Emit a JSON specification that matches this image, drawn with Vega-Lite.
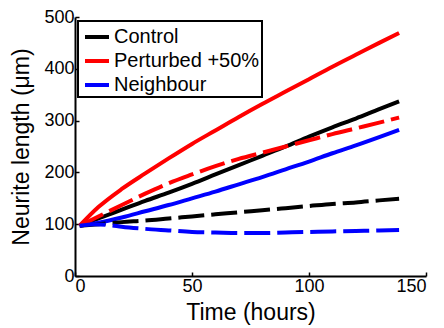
{
  "$schema": "https://vega.github.io/schema/vega-lite/v6.json",
  "width": 351,
  "height": 259,
  "autosize": {"type": "none"},
  "padding": {"left": 75, "top": 17, "right": 18, "bottom": 52},
  "background": "white",
  "config": {
    "font": "Liberation Sans",
    "view": {"stroke": null},
    "axis": {
      "grid": false,
      "domainColor": "black",
      "domainWidth": 2,
      "tickColor": "black",
      "tickWidth": 1.5,
      "tickSize": -4,
      "labelColor": "black",
      "labelFontSize": 18,
      "titleColor": "black",
      "titleFontSize": 23,
      "titleFontWeight": "normal"
    }
  },
  "data": {
    "values": [
      {"t": 2, "v": 97, "group": "Control", "kind": "solid"},
      {"t": 10, "v": 111, "group": "Control", "kind": "solid"},
      {"t": 20, "v": 128, "group": "Control", "kind": "solid"},
      {"t": 30, "v": 145, "group": "Control", "kind": "solid"},
      {"t": 40, "v": 161, "group": "Control", "kind": "solid"},
      {"t": 50, "v": 178, "group": "Control", "kind": "solid"},
      {"t": 60, "v": 196, "group": "Control", "kind": "solid"},
      {"t": 70, "v": 214, "group": "Control", "kind": "solid"},
      {"t": 80, "v": 232, "group": "Control", "kind": "solid"},
      {"t": 90, "v": 250, "group": "Control", "kind": "solid"},
      {"t": 100, "v": 269, "group": "Control", "kind": "solid"},
      {"t": 110, "v": 287, "group": "Control", "kind": "solid"},
      {"t": 120, "v": 304, "group": "Control", "kind": "solid"},
      {"t": 130, "v": 322, "group": "Control", "kind": "solid"},
      {"t": 138.5, "v": 337, "group": "Control", "kind": "solid"},

      {"t": 2, "v": 97, "group": "Perturbed +50%", "kind": "solid"},
      {"t": 10, "v": 133, "group": "Perturbed +50%", "kind": "solid"},
      {"t": 20, "v": 168, "group": "Perturbed +50%", "kind": "solid"},
      {"t": 30, "v": 198, "group": "Perturbed +50%", "kind": "solid"},
      {"t": 40, "v": 227, "group": "Perturbed +50%", "kind": "solid"},
      {"t": 50, "v": 255, "group": "Perturbed +50%", "kind": "solid"},
      {"t": 60, "v": 281, "group": "Perturbed +50%", "kind": "solid"},
      {"t": 70, "v": 307, "group": "Perturbed +50%", "kind": "solid"},
      {"t": 80, "v": 332, "group": "Perturbed +50%", "kind": "solid"},
      {"t": 90, "v": 356, "group": "Perturbed +50%", "kind": "solid"},
      {"t": 100, "v": 380, "group": "Perturbed +50%", "kind": "solid"},
      {"t": 110, "v": 404, "group": "Perturbed +50%", "kind": "solid"},
      {"t": 120, "v": 427, "group": "Perturbed +50%", "kind": "solid"},
      {"t": 130, "v": 450, "group": "Perturbed +50%", "kind": "solid"},
      {"t": 138.5, "v": 469, "group": "Perturbed +50%", "kind": "solid"},

      {"t": 2, "v": 97, "group": "Neighbour", "kind": "solid"},
      {"t": 10, "v": 103, "group": "Neighbour", "kind": "solid"},
      {"t": 20, "v": 113, "group": "Neighbour", "kind": "solid"},
      {"t": 30, "v": 125, "group": "Neighbour", "kind": "solid"},
      {"t": 40, "v": 137, "group": "Neighbour", "kind": "solid"},
      {"t": 50, "v": 150, "group": "Neighbour", "kind": "solid"},
      {"t": 60, "v": 163, "group": "Neighbour", "kind": "solid"},
      {"t": 70, "v": 177, "group": "Neighbour", "kind": "solid"},
      {"t": 80, "v": 191, "group": "Neighbour", "kind": "solid"},
      {"t": 90, "v": 206, "group": "Neighbour", "kind": "solid"},
      {"t": 100, "v": 221, "group": "Neighbour", "kind": "solid"},
      {"t": 110, "v": 237, "group": "Neighbour", "kind": "solid"},
      {"t": 120, "v": 252, "group": "Neighbour", "kind": "solid"},
      {"t": 130, "v": 268, "group": "Neighbour", "kind": "solid"},
      {"t": 138.5, "v": 282, "group": "Neighbour", "kind": "solid"},

      {"t": 2, "v": 97, "group": "Control", "kind": "dashed"},
      {"t": 10, "v": 100, "group": "Control", "kind": "dashed"},
      {"t": 20, "v": 104, "group": "Control", "kind": "dashed"},
      {"t": 30, "v": 107, "group": "Control", "kind": "dashed"},
      {"t": 40, "v": 111, "group": "Control", "kind": "dashed"},
      {"t": 50, "v": 115, "group": "Control", "kind": "dashed"},
      {"t": 60, "v": 119, "group": "Control", "kind": "dashed"},
      {"t": 70, "v": 123, "group": "Control", "kind": "dashed"},
      {"t": 80, "v": 127, "group": "Control", "kind": "dashed"},
      {"t": 90, "v": 131, "group": "Control", "kind": "dashed"},
      {"t": 100, "v": 135, "group": "Control", "kind": "dashed"},
      {"t": 110, "v": 139, "group": "Control", "kind": "dashed"},
      {"t": 120, "v": 142, "group": "Control", "kind": "dashed"},
      {"t": 130, "v": 146, "group": "Control", "kind": "dashed"},
      {"t": 138.5, "v": 149, "group": "Control", "kind": "dashed"},

      {"t": 2, "v": 97, "group": "Perturbed +50%", "kind": "dashed"},
      {"t": 10, "v": 115, "group": "Perturbed +50%", "kind": "dashed"},
      {"t": 20, "v": 137, "group": "Perturbed +50%", "kind": "dashed"},
      {"t": 30, "v": 159, "group": "Perturbed +50%", "kind": "dashed"},
      {"t": 40, "v": 179, "group": "Perturbed +50%", "kind": "dashed"},
      {"t": 50, "v": 196, "group": "Perturbed +50%", "kind": "dashed"},
      {"t": 60, "v": 212, "group": "Perturbed +50%", "kind": "dashed"},
      {"t": 70, "v": 226, "group": "Perturbed +50%", "kind": "dashed"},
      {"t": 80, "v": 238, "group": "Perturbed +50%", "kind": "dashed"},
      {"t": 90, "v": 250, "group": "Perturbed +50%", "kind": "dashed"},
      {"t": 100, "v": 262, "group": "Perturbed +50%", "kind": "dashed"},
      {"t": 110, "v": 274, "group": "Perturbed +50%", "kind": "dashed"},
      {"t": 120, "v": 285, "group": "Perturbed +50%", "kind": "dashed"},
      {"t": 130, "v": 296, "group": "Perturbed +50%", "kind": "dashed"},
      {"t": 138.5, "v": 306, "group": "Perturbed +50%", "kind": "dashed"},

      {"t": 2, "v": 97, "group": "Neighbour", "kind": "dashed"},
      {"t": 8, "v": 100, "group": "Neighbour", "kind": "dashed"},
      {"t": 15, "v": 98, "group": "Neighbour", "kind": "dashed"},
      {"t": 20, "v": 95, "group": "Neighbour", "kind": "dashed"},
      {"t": 30, "v": 91, "group": "Neighbour", "kind": "dashed"},
      {"t": 40, "v": 88, "group": "Neighbour", "kind": "dashed"},
      {"t": 50, "v": 85, "group": "Neighbour", "kind": "dashed"},
      {"t": 60, "v": 84, "group": "Neighbour", "kind": "dashed"},
      {"t": 70, "v": 83, "group": "Neighbour", "kind": "dashed"},
      {"t": 80, "v": 83, "group": "Neighbour", "kind": "dashed"},
      {"t": 90, "v": 84, "group": "Neighbour", "kind": "dashed"},
      {"t": 100, "v": 85, "group": "Neighbour", "kind": "dashed"},
      {"t": 110, "v": 86, "group": "Neighbour", "kind": "dashed"},
      {"t": 120, "v": 87, "group": "Neighbour", "kind": "dashed"},
      {"t": 130, "v": 88, "group": "Neighbour", "kind": "dashed"},
      {"t": 138.5, "v": 89, "group": "Neighbour", "kind": "dashed"}
    ]
  },
  "encoding": {
    "x": {
      "field": "t", "type": "quantitative",
      "scale": {"domain": [0, 150], "nice": false, "zero": false},
      "axis": {"values": [0, 50, 100, 150], "title": "Time (hours)", "labelPadding": 5, "titlePadding": 6}
    },
    "y": {
      "field": "v", "type": "quantitative",
      "scale": {"domain": [0, 500], "nice": false},
      "axis": {"values": [0, 100, 200, 300, 400, 500], "title": "Neurite length (μm)", "labelPadding": 5, "titlePadding": 10}
    },
    "color": {
      "field": "group", "type": "nominal",
      "scale": {"domain": ["Control", "Perturbed +50%", "Neighbour"], "range": ["#000000", "#ff0000", "#0000ff"]}
    }
  },
  "layer": [
    {
      "transform": [{"filter": "datum.kind === 'solid'"}],
      "mark": {"type": "line", "strokeWidth": 4, "strokeCap": "butt", "interpolate": "monotone"},
      "encoding": {
        "color": {
          "field": "group", "type": "nominal",
          "scale": {"domain": ["Control", "Perturbed +50%", "Neighbour"], "range": ["#000000", "#ff0000", "#0000ff"]},
          "legend": {
            "title": null,
            "orient": "none",
            "legendX": 3,
            "legendY": 4,
            "symbolType": "stroke",
            "symbolSize": 576,
            "symbolStrokeWidth": 4,
            "symbolOffset": 3,
            "labelFontSize": 20,
            "labelColor": "black",
            "labelOffset": 3,
            "labelLimit": 300,
            "rowPadding": 0,
            "padding": 2,
            "strokeColor": "black",
            "fillColor": "white",
            "encode": {"legend": {"update": {"strokeWidth": {"value": 2}}}}
          }
        }
      }
    },
    {
      "transform": [{"filter": "datum.kind === 'dashed'"}],
      "mark": {"type": "line", "strokeWidth": 4, "strokeCap": "butt", "strokeDash": [26, 7], "interpolate": "monotone"},
      "encoding": {
        "color": {"field": "group", "type": "nominal", "legend": null}
      }
    }
  ]
}
